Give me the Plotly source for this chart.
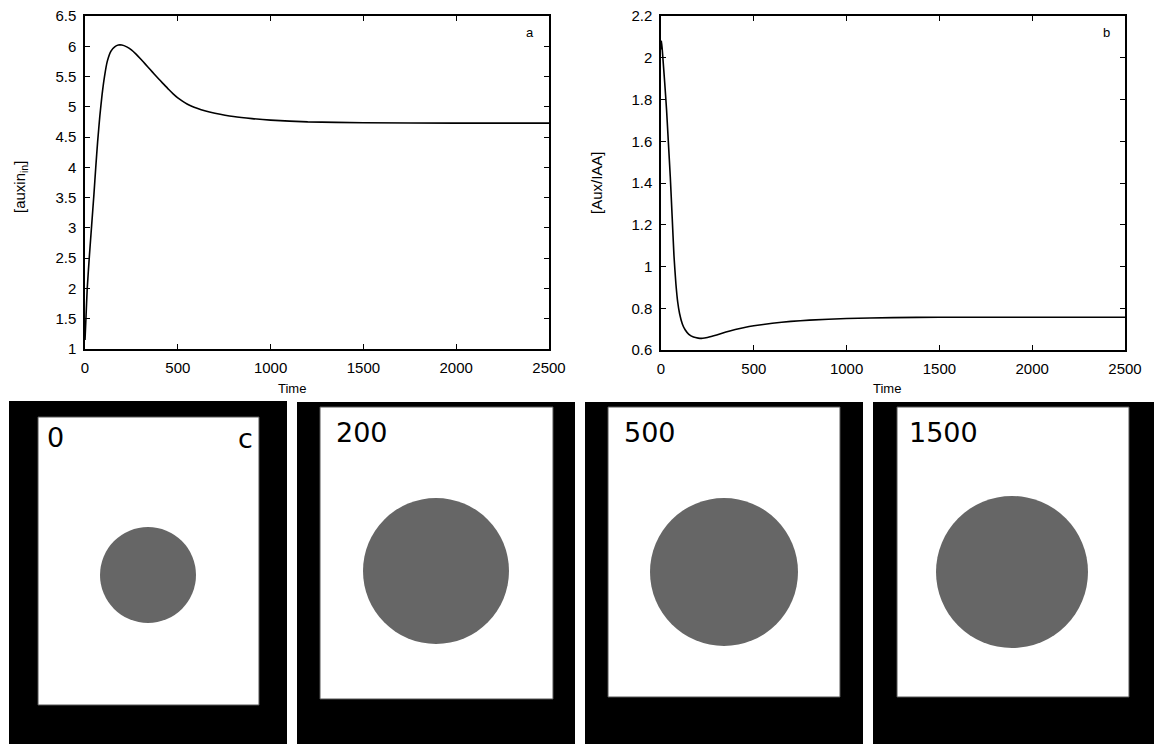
import plotly.graph_objects as go

# ---- time courses -------------------------------------------------------
time_a = [0, 5, 12, 24, 36, 48, 58, 68, 80, 92, 105, 120, 140, 160, 180, 198,
          225, 250, 275, 300, 325, 350, 375, 400, 425, 450, 475, 500, 525,
          550, 575, 600, 650, 700, 800, 900, 1000, 1200, 1500, 2000, 2500]
auxin_in = [1.15, 1.5, 2.0, 2.55, 3.05, 3.55, 4.0, 4.42, 4.85, 5.2, 5.5,
            5.75, 5.92, 5.99, 6.02, 6.02, 5.99, 5.94, 5.87, 5.79, 5.705, 5.62,
            5.535, 5.45, 5.37, 5.29, 5.215, 5.148, 5.093, 5.047, 5.011, 4.98,
            4.93, 4.895, 4.84, 4.805, 4.78, 4.752, 4.738, 4.731, 4.73]

time_b = [0, 3, 10, 20, 30, 40, 50, 60, 70, 80, 90, 100, 115, 130, 150, 175,
          200, 225, 250, 300, 350, 400, 450, 500, 600, 700, 800, 1000, 1250,
          1500, 2000, 2500]
aux_iaa = [2.04, 2.08, 2.0, 1.88, 1.75, 1.59, 1.43, 1.24, 1.05, 0.92, 0.83,
           0.775, 0.725, 0.697, 0.675, 0.662, 0.657, 0.656, 0.660, 0.672,
           0.686, 0.698, 0.708, 0.716, 0.728, 0.737, 0.743, 0.751, 0.755,
           0.757, 0.757, 0.757]

x_ticks = [0, 500, 1000, 1500, 2000, 2500]
y_ticks_a = [1, 1.5, 2, 2.5, 3, 3.5, 4, 4.5, 5, 5.5, 6, 6.5]
y_ticks_b = [0.6, 0.8, 1.0, 1.2, 1.4, 1.6, 1.8, 2.0, 2.2]
y_ticklabels_b = ["0.6", "0.8", "1", "1.2", "1.4", "1.6", "1.8", "2", "2.2"]

# ---- cell snapshots -----------------------------------------------------
snapshot_labels = ["0", "200", "500", "1500"]
cell_radius = [48, 73, 74, 76]

W, H = 1154, 744


def px(x):
    return x / W


def py(y):
    return 1 - y / H


fig = go.Figure()

fig.add_trace(go.Scatter(x=time_a, y=auxin_in, mode="lines",
                         line=dict(color="black", width=1.6, shape="spline", smoothing=0.5),
                         xaxis="x", yaxis="y", showlegend=False, hoverinfo="skip"))
fig.add_trace(go.Scatter(x=time_b, y=aux_iaa, mode="lines",
                         line=dict(color="black", width=1.6, shape="spline", smoothing=0.5),
                         xaxis="x2", yaxis="y2", showlegend=False, hoverinfo="skip"))

tickfont = dict(family="Liberation Sans, Arial, sans-serif", size=15, color="black")
common_x = dict(range=[0, 2500], tickvals=x_ticks, ticks="inside", ticklen=5,
                tickwidth=1, tickcolor="black", showline=True, linecolor="black",
                linewidth=1.5, mirror="allticks", showgrid=False, zeroline=False,
                tickfont=tickfont, ticklabelstandoff=4)
common_y = dict(ticks="inside", ticklen=5, tickwidth=1, tickcolor="black",
                showline=True, linecolor="black", linewidth=1.5, mirror="allticks",
                showgrid=False, zeroline=False, tickfont=tickfont,
                ticklabelstandoff=4)

layout = dict(
    autosize=True, margin=dict(l=0, r=0, t=0, b=0, autoexpand=False),
    paper_bgcolor="white", plot_bgcolor="white",
    xaxis=dict(domain=[px(85), px(549)], anchor="y", **common_x),
    yaxis=dict(domain=[py(349), py(16)], anchor="x", range=[1, 6.5],
               tickvals=y_ticks_a, **common_y),
    xaxis2=dict(domain=[px(661), px(1125)], anchor="y2", **common_x),
    yaxis2=dict(domain=[py(350), py(16)], anchor="x2", range=[0.6, 2.2],
                tickvals=y_ticks_b, ticktext=y_ticklabels_b, **common_y),
    # overlay axes for the cell snapshots, one unit per screen pixel
    xaxis3=dict(domain=[0, 1], range=[0, W], anchor="y3", visible=False,
                fixedrange=True),
    yaxis3=dict(domain=[0, py(390)], range=[H, 390], anchor="x3", visible=False,
                fixedrange=True),
)
fig.update_layout(**layout)

# invisible trace so the overlay axes are rendered
fig.add_trace(go.Scatter(x=[0], y=[H], mode="markers", marker=dict(opacity=0),
                         xaxis="x3", yaxis="y3", showlegend=False, hoverinfo="skip"))

labfont = dict(family="Liberation Sans, Arial, sans-serif", size=13, color="black")
ylabfont = dict(family="Liberation Sans, Arial, sans-serif", size=15, color="black")


def label(text, x, y, font, angle=0, ref="paper"):
    if ref == "paper":
        x, y, xr, yr = px(x), py(y), "paper", "paper"
    else:
        xr, yr = "x3", "y3"
    return dict(text=text, x=x, y=y, xref=xr, yref=yr, xanchor="center",
                yanchor="middle", showarrow=False, textangle=angle, font=font)


annotations = [
    label("Time", 292, 388, labfont),
    label("Time", 887, 388, labfont),
    label("[auxin<sub>in</sub>]", 20, 187, ylabfont, angle=-90),
    label("[Aux/IAA]", 596, 183, ylabfont, angle=-90),
    label("a", 530, 33, labfont),
    label("b", 1106, 33, labfont),
]

# frame (black) and field (white) boxes of each snapshot
frames = [(9, 287, 401), (297, 575, 402), (585, 863, 402), (873, 1154, 402)]
fields = [(38, 259, 417, 705), (320, 553, 407, 699), (608, 840, 407, 697),
          (897, 1129, 407, 697)]
centers = [(148, 575), (436, 571), (724, 572), (1012, 572)]
label_pos = [(55, 437), (362, 432), (650, 432), (943, 432)]

shapes = []
for (fx0, fx1, fy0), (wx0, wx1, wy0, wy1), (cx, cy), r in zip(frames, fields,
                                                               centers, cell_radius):
    shapes.append(dict(type="rect", xref="x3", yref="y3", x0=fx0, x1=fx1,
                       y0=fy0, y1=H, fillcolor="black", line=dict(width=0),
                       layer="above"))
    shapes.append(dict(type="rect", xref="x3", yref="y3", x0=wx0, x1=wx1,
                       y0=wy0, y1=wy1, fillcolor="white",
                       line=dict(width=1, color="#555555"), layer="above"))
    shapes.append(dict(type="circle", xref="x3", yref="y3", x0=cx - r, x1=cx + r,
                       y0=cy - r, y1=cy + r, fillcolor="#666666",
                       line=dict(width=0), layer="above"))

cellfont = dict(family="DejaVu Sans, sans-serif", size=27, color="black")
for lab, (lx, ly) in zip(snapshot_labels, label_pos):
    annotations.append(label(lab, lx, ly, cellfont, ref="x3"))
annotations.append(label("c", 245, 438, cellfont, ref="x3"))

fig.update_layout(shapes=shapes, annotations=annotations)

# fill the whole window: no page margin, graph sized to the viewport
page_fit = (
    "var de=document.documentElement, b=document.body;"
    "de.style.margin='0'; de.style.padding='0'; de.style.overflow='hidden';"
    "de.style.width='100%'; de.style.height='100%';"
    "b.style.margin='0'; b.style.padding='0'; b.style.overflow='hidden';"
    "b.style.width='100%'; b.style.height='100%';"
    "var gd=document.getElementById('{plot_id}');"
    "gd.parentElement.style.width='100%'; gd.parentElement.style.height='100%';"
    "gd.style.width='100vw'; gd.style.height='100vh';"
    "Plotly.relayout(gd, {width: window.innerWidth, height: window.innerHeight});"
)

fig.write_html("out.html", default_width="100%", default_height="100%",
               config={"responsive": True, "displayModeBar": False},
               post_script=page_fit)
